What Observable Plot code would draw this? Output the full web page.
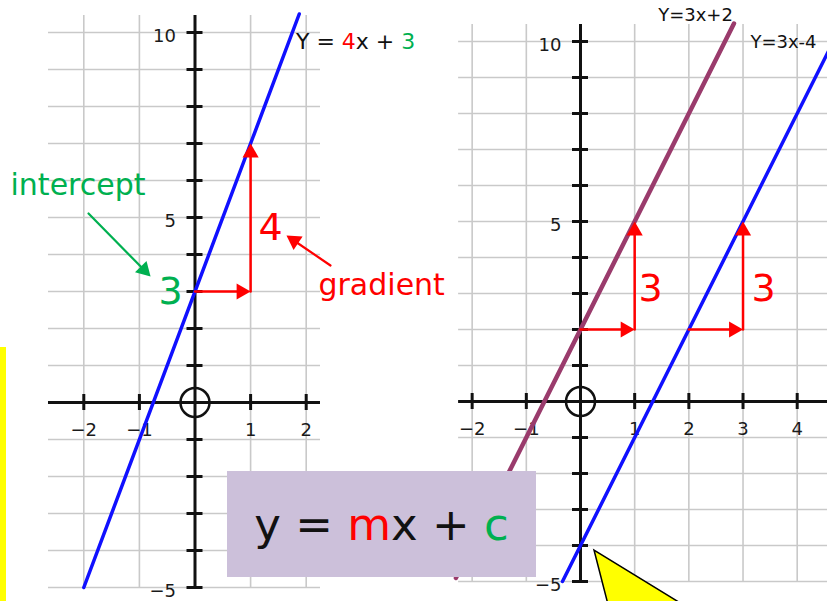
<!DOCTYPE html>
<html><head><meta charset="utf-8">
<script src="https://cdn.jsdelivr.net/npm/d3@7"></script>
<script src="https://cdn.jsdelivr.net/npm/@observablehq/plot@0.6"></script>
<style>
html,body{margin:0;padding:0;background:#fff;width:827px;height:601px;overflow:hidden;font-family:"DejaVu Sans",sans-serif}
#wrap{position:relative;width:827px;height:601px;overflow:hidden}
#wrap > svg{position:absolute;left:0;top:0}
.ov{position:absolute;white-space:nowrap}
</style></head><body><div id="wrap"></div>
<script>
const FONT = "DejaVu Sans";
const RED = "#ff0000", GREEN = "#00b050", BLUE = "#1010ff", PURPLE = "#9a3b6c";

// ---- Left panel data: y = 4x + 3 ----
const leftGridX = [-2, -1, 0, 1, 2];
const leftGridY = [-5, -4, -3, -2, -1, 0, 1, 2, 3, 4, 5, 6, 7, 8, 9, 10];
const leftXTicks = [-2, -1, 1, 2];
const leftYTicks = [-5, -4, -3, -2, -1, 1, 2, 3, 4, 5, 6, 7, 8, 9, 10];
const leftXLabels = [-2, -1, 1, 2];
const leftYLabels = [10, 5, -5];
const leftLineX = [-2, 1.875];
const leftLineY = [-5, 10.5];
const leftRuns = [{x1: 0, y1: 3, x2: 1, y2: 3}];
const leftRises = [{x1: 1, y1: 3, x2: 1, y2: 7}];

// ---- Right panel data: y = 3x + 2 and y = 3x - 4 ----
const rightGridX = [-2, -1, 0, 1, 2, 3, 4];
const rightGridY = [-5, -4, -3, -2, -1, 0, 1, 2, 3, 4, 5, 6, 7, 8, 9, 10];
const rightXTicks = [-2, -1, 1, 2, 3, 4];
const rightYTicks = [-5, -4, -3, -2, -1, 1, 2, 3, 4, 5, 6, 7, 8, 9, 10];
const rightXLabels = [-2, -1, 1, 2, 3, 4];
const rightYLabels = [10, 5, -5];
const purpleLineX = [-2.3, 2.833];
const purpleLineY = [-4.9, 10.5];
const blueLineX = [-0.333, 4.833];
const blueLineY = [-5, 10.5];
const rightRuns = [{x1: 0, y1: 2, x2: 1, y2: 2}, {x1: 2, y1: 2, x2: 3, y2: 2}];
const rightRises = [{x1: 1, y1: 2, x2: 1, y2: 5}, {x1: 3, y1: 2, x2: 3, y2: 5}];

const fmt = d => (d < 0 ? "\u2212" + Math.abs(d) : String(d));
const pts = (xs, ys) => xs.map((x, i) => ({x, y: ys[i]}));

function axesMarks(P) {
  return [
    Plot.ruleX(P.gridX, {x: d => d, y1: P.yExt[0], y2: P.yExt[1], stroke: "#c9c9c9", strokeWidth: 1.6}),
    Plot.ruleY(P.gridY, {y: d => d, x1: P.xExt[0], x2: P.xExt[1], stroke: "#c9c9c9", strokeWidth: 1.6}),
    Plot.ruleY([0], {y: d => d, x1: P.xExt[0], x2: P.xExt[1], stroke: "#111", strokeWidth: 3}),
    Plot.ruleX([0], {x: d => d, y1: P.yExt[0], y2: P.yExt[1], stroke: "#111", strokeWidth: 3}),
    Plot.ruleX(P.xTicks, {x: d => d, y1: 0, y2: 0, insetTop: -8, insetBottom: -8, stroke: "#111", strokeWidth: 3}),
    Plot.ruleY(P.yTicks, {y: d => d, x1: 0, x2: 0, insetLeft: -8, insetRight: -8, stroke: "#111", strokeWidth: 3}),
    Plot.dot([0], {x: 0, y: 0, r: 14.5, stroke: "#111", strokeWidth: 2.5, fill: "none"}),
    Plot.text(P.xLabels, {x: d => d, y: 0, dy: 28, text: fmt, fontSize: 18, fontFamily: FONT, fill: "#1a1a1a"}),
    Plot.text(P.yLabels, {x: 0, y: d => d, dx: -19, dy: 4, text: fmt, textAnchor: "end", fontSize: 18, fontFamily: FONT, fill: "#1a1a1a"})
  ];
}

function arrowMarks(runs, rises, color) {
  return [
    Plot.arrow(runs, {x1: "x1", y1: "y1", x2: "x2", y2: "y2", stroke: color, strokeWidth: 2.5, headLength: 0, insetEnd: 8}),
    Plot.arrow(rises, {x1: "x1", y1: "y1", x2: "x2", y2: "y2", stroke: color, strokeWidth: 2.5, headLength: 0, insetEnd: 8}),
    Plot.dot(runs, {x: "x2", y: "y2", symbol: "triangle", r: 6, fill: color, rotate: 90, dx: -9.3}),
    Plot.dot(rises, {x: "x2", y: "y2", symbol: "triangle", r: 6, fill: color, rotate: 0, dy: 9.3})
  ];
}

function label(a) {
  return Plot.text([a], {x: "x", y: "y", text: "text", fill: a.fill, fontSize: a.size, fontFamily: FONT, textAnchor: a.anchor || "middle"});
}

const wrap = document.getElementById("wrap");

// Left panel
const L = {
  gridX: leftGridX, gridY: leftGridY, xTicks: leftXTicks, yTicks: leftYTicks,
  xLabels: leftXLabels, yLabels: leftYLabels,
  xExt: [-2.635, 2.257], yExt: [-5, 10.46]
};
const leftNotes = [
  {x: -3.318, y: 5.865, text: "intercept", fill: GREEN, size: 30, anchor: "start"},
  {x: 2.221, y: 3.16, text: "gradient", fill: RED, size: 30, anchor: "start"},
  {x: 1.358, y: 4.73, text: "4", fill: RED, size: 38},
  {x: -0.44, y: 3.0, text: "3", fill: GREEN, size: 38}
];
const greenPointer = [{x1: -1.915, y1: 5.108, x2: -0.80, y2: 3.405}];
const redPointer = [{x1: 2.437, y1: 3.703, x2: 1.646, y2: 4.514}];

const left = Plot.plot({
  width: 827, height: 601, margin: 0,
  x: {domain: [-2, 2], range: [83.3, 305.7], axis: null},
  y: {domain: [0, 10], range: [402, 32], axis: null},
  style: {background: "white", overflow: "visible"},
  marks: [
    ...axesMarks(L),
    Plot.line(pts(leftLineX, leftLineY), {x: "x", y: "y", stroke: BLUE, strokeWidth: 3.5}),
    ...arrowMarks(leftRuns, leftRises, RED),
    Plot.arrow(greenPointer, {x1: "x1", y1: "y1", x2: "x2", y2: "y2", stroke: GREEN, strokeWidth: 2.2, headLength: 0, insetEnd: 8}),
    Plot.dot(greenPointer, {x: "x2", y: "y2", symbol: "triangle", r: 6, fill: GREEN, rotate: 135.5, dx: -6.5, dy: -6.6}),
    Plot.arrow(redPointer, {x1: "x1", y1: "y1", x2: "x2", y2: "y2", stroke: RED, strokeWidth: 2.2, headLength: 0, insetEnd: 8}),
    Plot.dot(redPointer, {x: "x2", y: "y2", symbol: "triangle", r: 6, fill: RED, rotate: 304, dx: 7.7, dy: 5.2}),
    ...leftNotes.map(label)
  ]
});
wrap.appendChild(left);

// Right panel
const R = {
  gridX: rightGridX, gridY: rightGridY, xTicks: rightXTicks, yTicks: rightYTicks,
  xLabels: rightXLabels, yLabels: rightYLabels,
  xExt: [-2.25, 4.7], yExt: [-5, 10.47]
};
const rightNotes = [
  {x: 1.292, y: 3.14, text: "3", fill: RED, size: 38},
  {x: 3.378, y: 3.14, text: "3", fill: RED, size: 38},
  {x: 2.123, y: 10.72, text: "Y=3x+2", fill: "#111", size: 18},
  {x: 3.747, y: 9.97, text: "Y=3x-4", fill: "#111", size: 18}
];
const right = Plot.plot({
  width: 827, height: 601, margin: 0,
  x: {domain: [0, 4], range: [580, 796.7], axis: null},
  y: {domain: [0, 10], range: [401, 41], axis: null},
  style: {background: "transparent", overflow: "visible"},
  marks: [
    ...axesMarks(R),
    Plot.line(pts(purpleLineX, purpleLineY), {x: "x", y: "y", stroke: PURPLE, strokeWidth: 4.5}),
    Plot.line(pts(blueLineX, blueLineY), {x: "x", y: "y", stroke: BLUE, strokeWidth: 3.5}),
    ...arrowMarks(rightRuns, rightRises, RED),
    ...rightNotes.map(label)
  ]
});
wrap.appendChild(right);

// Overlays
function div(css, html) {
  const d = document.createElement("div");
  d.className = "ov";
  d.style.cssText = css;
  if (html) d.innerHTML = html;
  wrap.appendChild(d);
  return d;
}
div("left:296px;top:29px;font-size:22px;line-height:26px;color:#111;",
  'Y = <span style="color:' + RED + '">4</span>x + <span style="color:' + GREEN + '">3</span>');
div("left:0;top:347px;width:6px;height:254px;background:#ffff00;");
div("left:227px;top:471px;width:309px;height:106px;background:#ccc0da;display:flex;align-items:center;justify-content:center;font-size:45px;color:#111;",
  '<span>y = <span style="color:' + RED + '">m</span>x + <span style="color:' + GREEN + '">c</span></span>');
div("left:0;top:0;width:827px;height:601px;pointer-events:none;",
  '<svg width="827" height="601" style="position:absolute;left:0;top:0"><polygon points="594,550 612,620 708,620" fill="#ffff00" stroke="#000" stroke-width="1.5"/></svg>');
</script></body></html>
